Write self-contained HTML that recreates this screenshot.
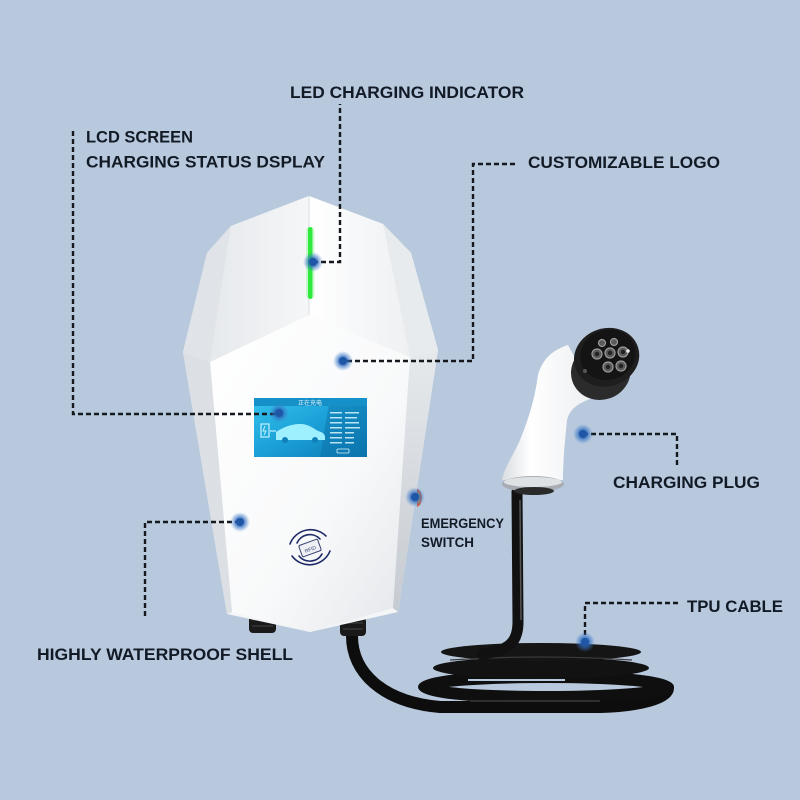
<!DOCTYPE html>
<html><head><meta charset="utf-8"><style>
html,body{margin:0;padding:0;background:#b8c9de;}
svg{display:block;}
.t{font-family:"Liberation Sans","Noto Sans CJK SC",sans-serif;font-weight:bold;fill:#121a26;}
.d{fill:none;stroke:#15181d;stroke-width:2.4;stroke-dasharray:5 3;}
</style></head><body>
<svg width="800" height="800" viewBox="0 0 800 800" xmlns="http://www.w3.org/2000/svg">
<defs>
<radialGradient id="glow"><stop offset="0" stop-color="#1f5fb5" stop-opacity="0.95"/><stop offset="0.45" stop-color="#2a68bd" stop-opacity="0.75"/><stop offset="1" stop-color="#4a86d0" stop-opacity="0"/></radialGradient>
<linearGradient id="front" x1="0" y1="0" x2="1" y2="1"><stop offset="0" stop-color="#ffffff"/><stop offset="0.6" stop-color="#f8f9fa"/><stop offset="1" stop-color="#e3e6ea"/></linearGradient>
<linearGradient id="tl" x1="0" y1="0" x2="1" y2="0"><stop offset="0" stop-color="#e6e9ec"/><stop offset="1" stop-color="#f5f6f8"/></linearGradient>
<linearGradient id="tr" x1="0" y1="0" x2="1" y2="0"><stop offset="0" stop-color="#ffffff"/><stop offset="1" stop-color="#eef0f2"/></linearGradient>
<linearGradient id="side" x1="0" y1="0" x2="0" y2="1"><stop offset="0" stop-color="#e6e9ec"/><stop offset="1" stop-color="#c6cbd1"/></linearGradient>
<linearGradient id="lcd" x1="0" y1="0" x2="1" y2="1"><stop offset="0" stop-color="#34c3ee"/><stop offset="0.5" stop-color="#1b9fd6"/><stop offset="1" stop-color="#0c78b2"/></linearGradient>
<linearGradient id="handle" x1="0" y1="0" x2="1" y2="0"><stop offset="0" stop-color="#d9dde1"/><stop offset="0.3" stop-color="#ffffff"/><stop offset="1" stop-color="#eceef0"/></linearGradient>
</defs>
<rect width="800" height="800" fill="#b8c9de"/>

<!-- cables -->
<path d="M352,636 C352,672 382,702 440,707 L600,707 C640,706 668,698 668,688" fill="none" stroke="#0d0d0d" stroke-width="12" stroke-linecap="round"/>
<ellipse cx="546" cy="687" rx="122" ry="10" fill="none" stroke="#0f0f0f" stroke-width="12"/>
<ellipse cx="541" cy="668" rx="108" ry="11" fill="#121212"/>
<ellipse cx="541" cy="652" rx="100" ry="9" fill="#151515"/>
<path d="M450,660 Q541,654 632,660" stroke="#3a3a3a" stroke-width="1.2" fill="none"/>
<path d="M468,680 L565,680" stroke="#b8c9de" stroke-width="2" fill="none"/>
<path d="M517,492 L518,622 C518,644 507,651 482,654" fill="none" stroke="#111" stroke-width="11" stroke-linecap="round"/>
<path d="M520,500 L521,620" stroke="#555" stroke-width="1.5" fill="none"/>
<path d="M470,701 L600,701" stroke="#3a3a3a" stroke-width="1.5" fill="none"/>

<!-- glands -->
<rect x="249" y="613" width="27" height="20" rx="4" fill="#1a1a1a"/>
<path d="M252,620 H273 M252,626 H273" stroke="#444" stroke-width="1"/>
<rect x="340" y="617" width="26" height="19" rx="4" fill="#1a1a1a"/>
<path d="M343,623 H363 M343,629 H363" stroke="#444" stroke-width="1"/>

<!-- charger body -->
<polygon points="309,196 383,224 411,253 438,350 398,612 310,632 227,614 183,352 207,253 231,226" fill="#f4f5f7"/>
<polygon points="210,362 309,315 410,357 393,608 310,632 232,612" fill="url(#front)"/>
<polygon points="183,352 210,362 232,612 227,614" fill="#dcdfe3"/>
<polygon points="410,357 438,350 398,612 393,608" fill="url(#side)"/>
<polygon points="207,253 231,226 210,362 183,352" fill="#e0e3e7"/>
<polygon points="309,196 231,226 210,362 309,315" fill="url(#tl)"/>
<polygon points="309,196 383,224 410,357 309,315" fill="url(#tr)"/>
<polygon points="383,224 411,253 438,350 410,357" fill="#e8ebee"/>
<path d="M309,196 V315" stroke="#d9dde1" stroke-width="1"/>

<!-- LED -->
<rect x="308" y="227" width="4.5" height="72" rx="2.2" fill="#2ee03a"/>
<rect x="306" y="227" width="8.5" height="72" rx="4" fill="#3cff4a" opacity="0.25"/>

<!-- LCD -->
<rect x="254" y="398" width="113" height="59" fill="url(#lcd)"/>
<polygon points="330,398 367,398 367,457 320,457" fill="#0b6ea6" opacity="0.45"/>
<rect x="254" y="398" width="113" height="8" fill="#1590c8"/>
<text x="310" y="405" font-size="6" fill="#e8f8ff" text-anchor="middle" font-family="'Noto Sans CJK SC',sans-serif">正在充电</text>
<rect x="261" y="424" width="8" height="13" fill="none" stroke="#bff3ff" stroke-width="1.2"/>
<path d="M265,426 L263,431 H266 L264,435" stroke="#bff3ff" stroke-width="1" fill="none"/>
<path d="M270,431 H276" stroke="#bff3ff" stroke-width="1.2"/>
<path d="M276,440 L276,432 C282,428 290,424 300,424 C308,424 313,428 318,431 C322,432 325,434 325,437 L325,440 Z" fill="#9ff0ff"/>
<circle cx="285" cy="440" r="3" fill="#0f80b8"/><circle cx="315" cy="440" r="3" fill="#0f80b8"/>
<g fill="#d8f6ff" opacity="0.85">
<rect x="330" y="412" width="12" height="1.5"/><rect x="345" y="412" width="14" height="1.5"/>
<rect x="330" y="417" width="12" height="1.5"/><rect x="345" y="417" width="12" height="1.5"/>
<rect x="330" y="422" width="12" height="1.5"/><rect x="345" y="422" width="14" height="1.5"/>
<rect x="330" y="427" width="12" height="1.5"/><rect x="345" y="427" width="15" height="1.5"/>
<rect x="330" y="432" width="12" height="1.5"/><rect x="345" y="432" width="9" height="1.5"/>
<rect x="330" y="437" width="12" height="1.5"/><rect x="345" y="437" width="9" height="1.5"/>
<rect x="330" y="442" width="12" height="1.5"/><rect x="345" y="442" width="9" height="1.5"/>
</g>
<rect x="337" y="449" width="12" height="4" rx="1" fill="none" stroke="#d8f6ff" stroke-width="0.8"/>

<!-- RFID -->
<g fill="none" stroke="#1e2a68" stroke-width="1.6" stroke-linecap="round">
<path d="M290,544 A22,22 0 0 1 326,536"/>
<path d="M297,543 A14,14 0 0 1 320,539"/>
<path d="M292,556 A22,22 0 0 0 330,551"/>
<path d="M299,556 A14,14 0 0 0 322,554"/>
</g>
<g transform="rotate(-20 310 548)"><rect x="300" y="542" width="20" height="12" rx="1.5" fill="#eef0f5" stroke="#3a4470" stroke-width="1"/><text x="310" y="551" font-size="5" fill="#3a4470" text-anchor="middle" font-family="'Liberation Sans',sans-serif">RFID</text></g>

<!-- emergency switch -->
<path d="M417,489 C422,491 423,498 420,505 L417,507 Z" fill="#e2572a"/>
<path d="M418,492 C420,495 420,500 418,503" stroke="#f2b23a" stroke-width="1.5" fill="none"/>

<!-- plug handle -->
<path d="M568,345 C552,350 542,360 538,375 C535,395 532,410 520,440 C512,458 504,468 502,480 L563,480 C563,460 565,440 567,420 C570,408 580,402 596,397 Z" fill="url(#handle)"/>
<ellipse cx="533" cy="484" rx="31" ry="8" fill="#a7adb3"/>
<ellipse cx="533" cy="482" rx="29" ry="5" fill="#dfe2e5"/>
<ellipse cx="534" cy="491" rx="20" ry="4" fill="#2a2a2a"/>
<g transform="rotate(-18 605 362)">
<ellipse cx="598" cy="370" rx="30" ry="28" fill="#2b2b2b"/>
<ellipse cx="608" cy="358" rx="33" ry="29" fill="#1e1e1e"/>
<ellipse cx="610" cy="356" rx="28" ry="25" fill="#141414"/>
</g>
<circle cx="585" cy="371" r="2" fill="#555"/>
<g stroke="#9a9a9a" stroke-width="1.2" fill="#5a5a5a">
<circle cx="602" cy="343" r="3.5"/><circle cx="614" cy="342" r="3.5"/>
<circle cx="597" cy="354" r="5"/><circle cx="610" cy="353" r="5"/><circle cx="623" cy="352" r="5"/>
<circle cx="608" cy="367" r="5"/><circle cx="621" cy="366" r="5"/>
</g>
<g fill="#222">
<circle cx="597" cy="354" r="2.2"/><circle cx="610" cy="353" r="2.2"/><circle cx="623" cy="352" r="2.2"/>
<circle cx="608" cy="367" r="2.2"/><circle cx="621" cy="366" r="2.2"/>
</g>
<circle cx="628" cy="351" r="1.8" fill="#eee"/>

<!-- dashed leader lines -->
<path class="d" d="M313,262 H340 V104"/>
<path class="d" d="M73,131 V414 H280"/>
<path class="d" d="M515,164 H473 V361 H344"/>
<path class="d" d="M583,434 H677 V467"/>
<path class="d" d="M678,603 H585 V642"/>
<path class="d" d="M240,522 H145 V619"/>

<!-- glow dots -->
<g>
<circle cx="313" cy="262" r="10" fill="url(#glow)"/><circle cx="313" cy="262" r="4" fill="#1f56a6"/>
<circle cx="343" cy="361" r="10" fill="url(#glow)"/><circle cx="343" cy="361" r="4" fill="#1f56a6"/>
<circle cx="279" cy="413" r="10" fill="url(#glow)"/><circle cx="279" cy="413" r="4" fill="#1f56a6"/>
<circle cx="240" cy="522" r="10" fill="url(#glow)"/><circle cx="240" cy="522" r="4" fill="#1f56a6"/>
<circle cx="415" cy="497" r="10" fill="url(#glow)"/><circle cx="415" cy="497" r="4" fill="#1f56a6"/>
<circle cx="583" cy="434" r="10" fill="url(#glow)"/><circle cx="583" cy="434" r="4" fill="#1f56a6"/>
<circle cx="585" cy="642" r="10" fill="url(#glow)"/><circle cx="585" cy="642" r="4" fill="#1f56a6"/>
</g>

<!-- labels -->
<text class="t" x="290" y="98" font-size="16.5" textLength="234" lengthAdjust="spacingAndGlyphs">LED CHARGING INDICATOR</text>
<text class="t" x="86" y="142.5" font-size="16.5" textLength="107" lengthAdjust="spacingAndGlyphs">LCD SCREEN</text>
<text class="t" x="86" y="167.5" font-size="16.5" textLength="239" lengthAdjust="spacingAndGlyphs">CHARGING STATUS DSPLAY</text>
<text class="t" x="528" y="168" font-size="16.5" textLength="192" lengthAdjust="spacingAndGlyphs">CUSTOMIZABLE LOGO</text>
<text class="t" x="613" y="488" font-size="16.5" textLength="147" lengthAdjust="spacingAndGlyphs">CHARGING PLUG</text>
<text class="t" x="687" y="612" font-size="16.5" textLength="96" lengthAdjust="spacingAndGlyphs">TPU CABLE</text>
<text class="t" x="37" y="660" font-size="16.5" textLength="256" lengthAdjust="spacingAndGlyphs">HIGHLY WATERPROOF SHELL</text>
<text class="t" x="421" y="528" font-size="13.5" textLength="83" lengthAdjust="spacingAndGlyphs">EMERGENCY</text>
<text class="t" x="421" y="547" font-size="13.5" textLength="53" lengthAdjust="spacingAndGlyphs">SWITCH</text>
</svg>
</body></html>
